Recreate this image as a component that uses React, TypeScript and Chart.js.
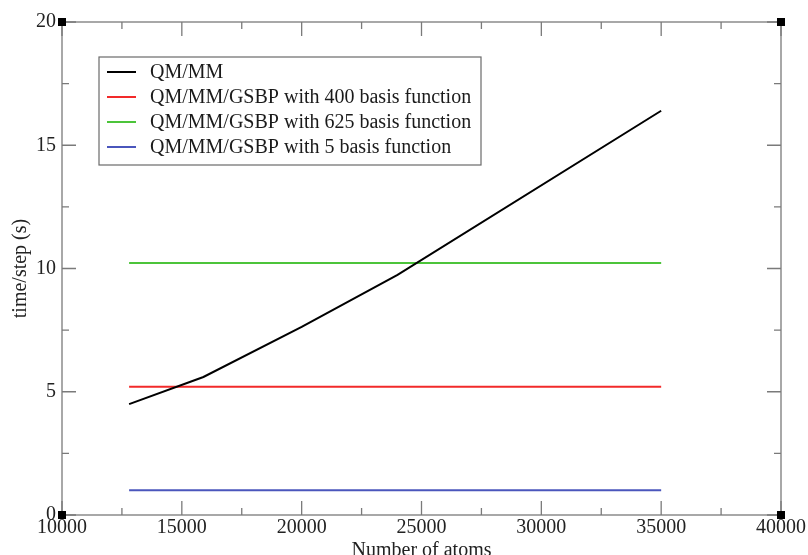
import React, { useEffect, useRef } from "react";
import { Chart, registerables } from "chart.js";

Chart.register(...registerables);

// ---- data ----
const atomCounts = [12800, 15900, 20000, 24000, 35000];
const qmmmTimes = [4.5, 5.6, 7.63, 9.74, 16.4];
const gsbpAtomRange = [12800, 35000];
const gsbp400Times = [5.2, 5.2];
const gsbp625Times = [10.22, 10.22];
const gsbp5Times = [1.0, 1.0];
const seriesLabels = [
  "QM/MM",
  "QM/MM/GSBP with 400 basis function",
  "QM/MM/GSBP with 625 basis function",
  "QM/MM/GSBP with 5 basis function",
];
const seriesColors = ["#000000", "#f22a2a", "#4cc43a", "#4a56bc"];
const xTickValues = [10000, 15000, 20000, 25000, 30000, 35000, 40000];
const yTickValues = [0, 5, 10, 15, 20];
const xAxisTitle = "Number of atoms";
const yAxisTitle = "time/step (s)";

const FONT_FAMILY = '"Liberation Serif", "Times New Roman", serif';
const AXIS_COLOR = "#7a7a7a";

const pts = (xs: number[], ys: number[]) => xs.map((x, i) => ({ x, y: ys[i] }));

const framePlugin = {
  id: "graceFrame",
  afterDraw(chart: any) {
    const { ctx, chartArea } = chart;
    const { left, right, top, bottom } = chartArea;
    const xs = chart.scales.x;
    const ys = chart.scales.y;
    ctx.save();
    ctx.strokeStyle = AXIS_COLOR;
    ctx.lineWidth = 1.3;
    ctx.strokeRect(left, top, right - left, bottom - top);
    ctx.beginPath();
    for (let v = xs.min; v <= xs.max + 1e-6; v += 2500) {
      const px = xs.getPixelForValue(v);
      const len = v % 5000 === 0 ? 14 : 7;
      ctx.moveTo(px, bottom);
      ctx.lineTo(px, bottom - len);
      ctx.moveTo(px, top);
      ctx.lineTo(px, top + len);
    }
    for (let v = ys.min; v <= ys.max + 1e-6; v += 2.5) {
      const py = ys.getPixelForValue(v);
      const len = v % 5 === 0 ? 14 : 7;
      ctx.moveTo(left, py);
      ctx.lineTo(left + len, py);
      ctx.moveTo(right, py);
      ctx.lineTo(right - len, py);
    }
    ctx.stroke();
    ctx.fillStyle = "#000";
    const s = 8;
    for (const [cx, cy] of [
      [left, top],
      [right, top],
      [left, bottom],
      [right, bottom],
    ]) {
      ctx.fillRect(cx - s / 2, cy - s / 2, s, s);
    }
    ctx.restore();
  },
};

const legendPlugin = {
  id: "boxLegend",
  afterDraw(chart: any) {
    const { ctx, chartArea } = chart;
    const bx = chartArea.left + 37;
    const by = chartArea.top + 35;
    const bw = 382;
    const bh = 108;
    ctx.save();
    ctx.fillStyle = "#ffffff";
    ctx.fillRect(bx, by, bw, bh);
    ctx.strokeStyle = "#6a6a6a";
    ctx.lineWidth = 1.2;
    ctx.strokeRect(bx, by, bw, bh);
    ctx.font = `20px ${FONT_FAMILY}`;
    ctx.textBaseline = "middle";
    ctx.textAlign = "left";
    chart.data.datasets.forEach((ds: any, i: number) => {
      const y = by + 15 + i * 25;
      ctx.strokeStyle = ds.borderColor;
      ctx.lineWidth = 2;
      ctx.beginPath();
      ctx.moveTo(bx + 8, y);
      ctx.lineTo(bx + 37, y);
      ctx.stroke();
      ctx.fillStyle = "#1a1a1a";
      ctx.fillText(ds.label, bx + 51, y + 1);
    });
    ctx.restore();
  },
};

export default function App() {
  const canvasRef = useRef<HTMLCanvasElement | null>(null);

  useEffect(() => {
    if (!canvasRef.current) return;
    const seriesY = [qmmmTimes, gsbp400Times, gsbp625Times, gsbp5Times];
    const seriesX = [atomCounts, gsbpAtomRange, gsbpAtomRange, gsbpAtomRange];
    const chart = new Chart(canvasRef.current, {
      type: "line",
      data: {
        datasets: seriesLabels.map((label, i) => ({
          label,
          data: pts(seriesX[i], seriesY[i]),
          borderColor: seriesColors[i],
          backgroundColor: seriesColors[i],
          borderWidth: 2,
          pointRadius: 0,
          tension: 0,
          fill: false,
        })),
      },
      options: {
        animation: false,
        responsive: false,
        maintainAspectRatio: false,
        layout: { padding: { top: 22, right: 27, left: 0, bottom: 0 } },
        plugins: {
          legend: { display: false },
          tooltip: { enabled: false },
        },
        scales: {
          x: {
            type: "linear",
            min: 10000,
            max: 40000,
            grid: { display: false, drawTicks: false },
            border: { display: false },
            afterBuildTicks: (scale: any) => {
              scale.ticks = xTickValues.map((v) => ({ value: v }));
            },
            afterFit: (scale: any) => {
              scale.height = 40;
            },
            ticks: {
              padding: 1,
              color: "#222",
              font: { family: FONT_FAMILY, size: 20 },
              maxRotation: 0,
              callback: (v: any) => String(v),
            },
            title: {
              display: true,
              text: xAxisTitle,
              color: "#222",
              font: { family: FONT_FAMILY, size: 20 },
              padding: { top: 0, bottom: -8 },
            },
          },
          y: {
            type: "linear",
            min: 0,
            max: 20,
            grid: { display: false, drawTicks: false },
            border: { display: false },
            afterBuildTicks: (scale: any) => {
              scale.ticks = yTickValues.map((v) => ({ value: v }));
            },
            afterFit: (scale: any) => {
              scale.width = 62;
            },
            ticks: {
              padding: 6,
              color: "#222",
              font: { family: FONT_FAMILY, size: 20 },
              callback: (v: any) => String(v),
            },
            title: {
              display: true,
              text: yAxisTitle,
              color: "#222",
              font: { family: FONT_FAMILY, size: 20 },
              padding: { top: 9, bottom: 0 },
            },
          },
        },
      },
      plugins: [framePlugin, legendPlugin],
    } as any);
    return () => chart.destroy();
  }, []);

  return (
    <div style={{ position: "absolute", left: 0, top: 0, width: 808, height: 555, background: "#fff" }}>
      <canvas ref={canvasRef} width={808} height={555} style={{ display: "block" }} />
    </div>
  );
}
